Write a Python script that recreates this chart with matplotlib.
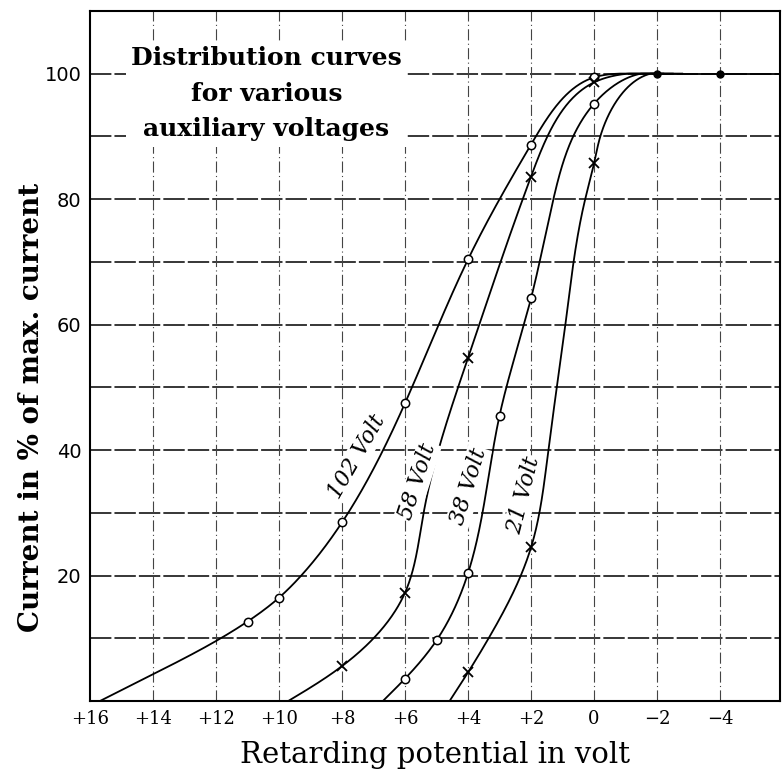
import numpy as np
import matplotlib.pyplot as plt

# measured points (marked on the chart)
v102_x = [11, 10, 8, 6, 4, 2, 0]
v102_y = [12.7, 16.5, 28.5, 47.5, 70.4, 88.7, 99.4]
v58_x = [8, 6, 4, 2, 0]
v58_y = [5.6, 17.3, 54.7, 83.6, 98.6]
v38_x = [6, 5, 4, 3, 2, 0]
v38_y = [3.6, 9.7, 20.4, 45.5, 64.2, 95.2]
v21_x = [4, 2, 0]
v21_y = [4.6, 24.5, 85.7]
top_x = [-2, -4]
top_y = [100, 100]

# points
c102_x = [15.7, 14, 12, 11, 10, 9.3, 8, 6, 4, 2, 0, -0.8, -2]
c102_y = [0, 4.3, 9.6, 12.7, 16.5, 20, 28.5, 47.5, 70.4, 88.7, 99.4, 100, 100]
c58_x = [9.72, 8, 6, 5.41, 4, 2, 0, -1.1, -2.2]
c58_y = [0, 5.6, 17.3, 30, 54.7, 83.6, 98.6, 100, 100]
c38_x = [6.71, 6, 5, 4, 3, 2, 1.29, 0, -1.5, -2.5]
c38_y = [0, 3.6, 9.7, 20.4, 45.5, 64.2, 80, 95.2, 100, 100]
c21_x = [4.59, 4, 3.35, 2, 1.45, 0.91, 0.28, 0, -0.2, -1.8, -2.8]
c21_y = [0, 4.6, 10, 24.5, 40, 60, 80, 85.7, 90, 100, 100]

xticks = [16, 14, 12, 10, 8, 6, 4, 2, 0, -2, -4]
xtick_labels = ['+16', '+14', '+12', '+10', '+8', '+6', '+4', '+2', '0', '\u22122', '\u22124']
yticks = [20, 40, 60, 80, 100]


def nat_spline(t, y, ts):
    n = len(t)
    h = np.diff(t)
    A = np.zeros((n, n)); b = np.zeros(n)
    A[0, 0] = 1; A[-1, -1] = 1
    for i in range(1, n - 1):
        A[i, i - 1] = h[i - 1]
        A[i, i] = 2 * (h[i - 1] + h[i])
        A[i, i + 1] = h[i]
        b[i] = 6 * ((y[i + 1] - y[i]) / h[i] - (y[i] - y[i - 1]) / h[i - 1])
    M = np.linalg.solve(A, b)
    i = np.clip(np.searchsorted(t, ts) - 1, 0, n - 2)
    hi = h[i]
    a = t[i + 1] - ts
    c = ts - t[i]
    return (M[i] * a**3 / (6 * hi) + M[i + 1] * c**3 / (6 * hi)
            + (y[i] / hi - M[i] * hi / 6) * a + (y[i + 1] / hi - M[i + 1] * hi / 6) * c)


def smooth_curve(cx, cy, n=600):
    # parametric spline, chord length in screen-like units
    x = np.asarray(cx, float) * 31.55
    y = np.asarray(cy, float) * 6.29
    t = np.concatenate([[0], np.cumsum(np.hypot(np.diff(x), np.diff(y)))])
    ts = np.linspace(0, t[-1], n)
    xs = nat_spline(t, x, ts) / 31.55
    ys = nat_spline(t, y, ts) / 6.29
    return xs, np.clip(ys, 0, 100)


fig = plt.figure(figsize=(7.83, 7.74), dpi=100)
ax = fig.add_axes([0.115, 0.094, 0.881, 0.892])
ax.set_xlim(16, -5.9)
ax.set_ylim(0, 110)

# graph paper grid
for yv in range(10, 101, 10):
    ax.axhline(yv, color='black', lw=1.1, ls=(0, (14, 2)), zorder=1)
for xv in range(-4, 15, 2):
    ax.axvline(xv, color='#444444', lw=0.8, ls=(0, (10, 3, 1, 3)), zorder=1)

for cx, cy in [(c102_x, c102_y), (c58_x, c58_y), (c38_x, c38_y), (c21_x, c21_y)]:
    xs, ys = smooth_curve(cx, cy)
    ax.plot(xs, ys, color='black', lw=1.3, zorder=3)
ax.plot([-2, -5.9], [100, 100], color='black', lw=1.3, zorder=3)

ax.plot(v102_x, v102_y, 'o', ms=6, mfc='white', mec='black', mew=1.1, zorder=4)
ax.plot(v38_x, v38_y, 'o', ms=6, mfc='white', mec='black', mew=1.1, zorder=4)
ax.plot(v58_x, v58_y, 'x', ms=7, mec='black', mew=1.3, zorder=4)
ax.plot(v21_x, v21_y, 'x', ms=7, mec='black', mew=1.3, zorder=4)
ax.plot(top_x, top_y, 'o', ms=5, color='black', zorder=4)

ax.text(10.4, 96.8, 'Distribution curves\nfor various\nauxiliary voltages',
        ha='center', va='center', fontsize=18, fontweight='bold',
        family='DejaVu Serif', linespacing=1.6, zorder=5,
        bbox=dict(facecolor='white', edgecolor='none', pad=4))

lab = dict(family='DejaVu Serif', style='italic', fontsize=16,
           ha='center', va='center', zorder=5)
ax.text(7.51, 39.0, '102 Volt', rotation=60,
        bbox=dict(facecolor='white', edgecolor='none', pad=1), **lab)
ax.text(5.6, 35.0, '58 Volt', rotation=72,
        bbox=dict(facecolor='white', edgecolor='none', pad=1), **lab)
ax.text(3.99, 34.2, '38 Volt', rotation=73,
        bbox=dict(facecolor='white', edgecolor='none', pad=1), **lab)
ax.text(2.24, 32.8, '21 Volt', rotation=76,
        bbox=dict(facecolor='white', edgecolor='none', pad=1), **lab)

ax.set_xticks(xticks)
ax.set_xticklabels(xtick_labels, family='DejaVu Serif', fontsize=13)
ax.set_yticks(yticks)
ax.set_yticklabels([str(v) for v in yticks], family='DejaVu Sans', fontsize=14)
ax.tick_params(length=0, pad=6)
for s in ax.spines.values():
    s.set_linewidth(1.5)

ax.set_xlabel('Retarding potential in volt', family='DejaVu Serif',
              fontsize=21, labelpad=10)
ax.set_ylabel('Current in % of max. current', family='DejaVu Serif',
              fontsize=20, fontweight='bold')
ax.yaxis.set_label_coords(-0.066, 0.425)

fig.savefig('out.png', dpi=100)
